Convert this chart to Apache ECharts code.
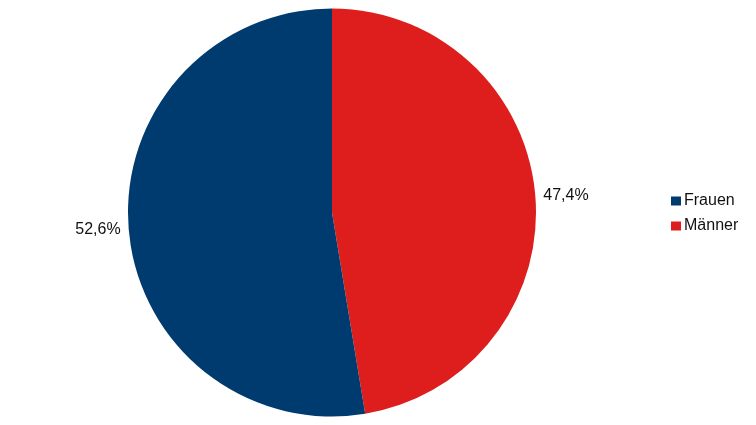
<!DOCTYPE html>
<html><head><meta charset="utf-8">
<script src="https://cdn.jsdelivr.net/npm/echarts@6/dist/echarts.min.js"></script>
<style>html,body{margin:0;padding:0;background:#fff}#c{width:756px;height:425px}</style>
</head><body><div id="c"></div>
<script>
const categories = ['Männer', 'Frauen'];
const values = [47.4, 52.6];
const colors = ['#dd1e1d', '#003b6f'];
const legendOrder = ['Frauen', 'Männer'];

const chart = echarts.init(document.getElementById('c'));
chart.setOption({
  animation: false,
  color: colors,
  textStyle: {fontFamily: 'Liberation Sans, Arial, sans-serif'},
  legend: {
    data: legendOrder, orient: 'vertical', left: 666, top: 188,
    itemWidth: 10, itemHeight: 9, itemGap: 9, icon: 'rect',
    textStyle: {fontSize: 16, color: '#111', padding: [0,0,0,-2]},
    selectedMode: false
  },
  series: [{
    type: 'pie', center: [332, 212.5], radius: 204, startAngle: 90, clockwise: true,
    data: categories.map((c, i) => ({name: c, value: values[i]})),
    label: {show: true, position: 'outside', fontSize: 16, color: '#111',
      formatter: p => p.value.toFixed(1).replace('.', ',') + '%'},
    labelLine: {show: false, length: 1, length2: 2},
    emphasis: {disabled: true},
    itemStyle: {borderWidth: 0}
  }]
});
</script></body></html>
